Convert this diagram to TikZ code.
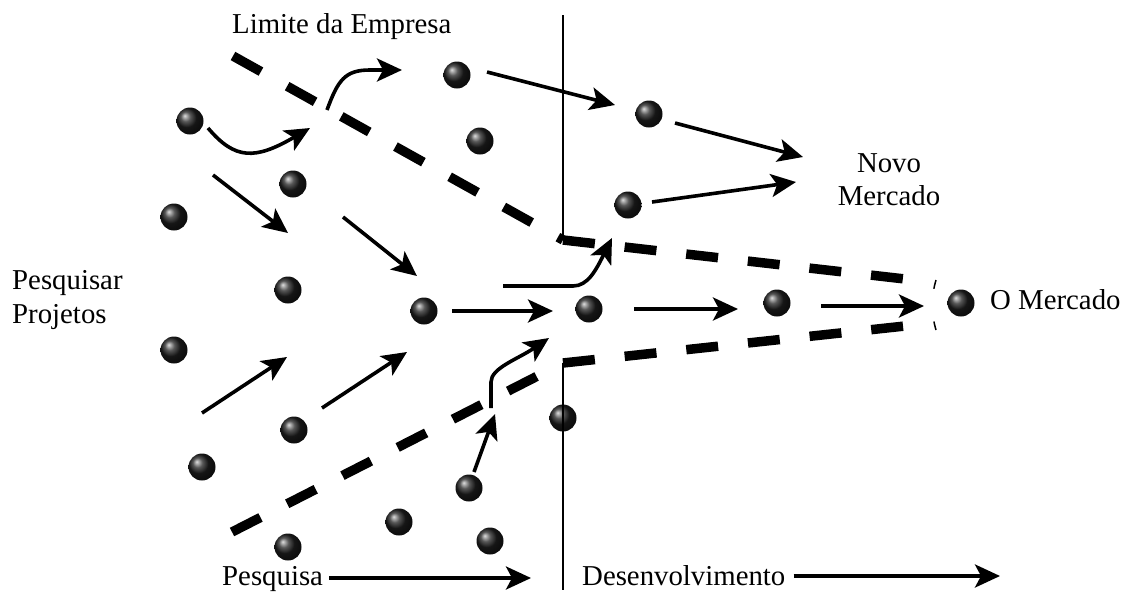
\documentclass[tikz,border=0pt]{standalone}
\usepackage{fontspec}
\setmainfont{Liberation Serif}
\usetikzlibrary{arrows.meta,shadings}
\tikzset{
  ballnode/.style={circle, inner sep=0pt, minimum size=27pt, shading=ball, ball color=black!88},
  flow/.style={line width=3.6pt, -{Stealth[length=25pt,width=23pt,inset=6pt]}},
  boundary/.style={line width=9.5pt, dash pattern=on 32pt off 30pt},
  divider/.style={line width=1.6pt},
  lbl/.style={inner sep=0pt, font=\fontsize{28.8}{33}\selectfont}
}
\begin{document}
\begin{tikzpicture}[x=1pt,y=-1pt]
\useasboundingbox (0,0) rectangle (1127,592);
% balls
\node[ballnode] (b1) at (190,121) {};
\node[ballnode] (b2) at (457,75) {};
\node[ballnode] (b3) at (480,141) {};
\node[ballnode] (b4) at (293,184) {};
\node[ballnode] (b5) at (174,217) {};
\node[ballnode] (b6) at (649,114) {};
\node[ballnode] (b7) at (628,205) {};
\node[ballnode] (b8) at (288,290) {};
\node[ballnode] (b9) at (424,311) {};
\node[ballnode] (b10) at (589,309) {};
\node[ballnode] (b11) at (777,303) {};
\node[ballnode] (b12) at (961,303) {};
\node[ballnode] (b13) at (174,350) {};
\node[ballnode] (b14) at (294,430) {};
\node[ballnode] (b15) at (563,418) {};
\node[ballnode] (b16) at (202,467) {};
\node[ballnode] (b17) at (469,488) {};
\node[ballnode] (b18) at (399,522) {};
\node[ballnode] (b19) at (490,541) {};
\node[ballnode] (b20) at (288,547) {};
% labels
\node[lbl, anchor=base west] (limite) at (232,33) {Limite da Empresa};
\node[lbl, anchor=base] (novo) at (889,172) {Novo};
\node[lbl, anchor=base] (mercado) at (889,205) {Mercado};
\node[lbl, anchor=base west] (pesq1) at (12,289) {Pesquisar};
\node[lbl, anchor=base west] (pesq2) at (12,323) {Projetos};
\node[lbl, anchor=base west] (omerc) at (990,309) {O Mercado};
\node[lbl, anchor=base west] (pesquisa) at (222,585) {Pesquisa};
\node[lbl, anchor=base west] (desenv) at (582,585) {Desenvolvimento};
% divider line
\coordinate (vtop) at (563,15);
\coordinate (ucorner) at (563,240);
\coordinate (lcorner) at (563,363);
\coordinate (vbot) at (563,590);
\draw[divider] (vtop) -- (ucorner);
\draw[divider] (lcorner) -- (vbot);
% boundaries
\coordinate (ustart) at (233,56);
\coordinate (uend) at (905,279);
\coordinate (lstart) at (232,532);
\coordinate (lend) at (905,326);
\draw[boundary] (ustart) -- (ucorner);
\draw[boundary] (ucorner) -- (uend);
\draw[boundary] (lstart) -- (lcorner);
\draw[boundary] (lcorner) -- (lend);
\coordinate (mtop) at (936,280);
\coordinate (mbot) at (936,330);
\draw[line width=1.5pt, dash pattern=on 9pt off 33pt] (mtop) .. controls (931,297) and (931,313) .. (mbot);
% arrows
\coordinate (a1s) at (208,128); \coordinate (a1e) at (310,128);
\draw[flow] (a1s) .. controls (235,160) and (255,160) .. (a1e);
\coordinate (a2s) at (327,110); \coordinate (a2m) at (370,70); \coordinate (a2e) at (402,70);
\draw[flow] (a2s) .. controls (338,80) and (345,70) .. (a2m) -- (a2e);
\coordinate (a3s) at (487,72); \coordinate (a3e) at (615,105);
\draw[flow] (a3s) -- (a3e);
\coordinate (a4s) at (675,123); \coordinate (a4e) at (803,157);
\draw[flow] (a4s) -- (a4e);
\coordinate (a5s) at (652,202); \coordinate (a5e) at (796,182);
\draw[flow] (a5s) -- (a5e);
\coordinate (a6s) at (213,175); \coordinate (a6e) at (288,233);
\draw[flow] (a6s) -- (a6e);
\coordinate (a7s) at (343,217); \coordinate (a7e) at (417,276);
\draw[flow] (a7s) -- (a7e);
\coordinate (a8s) at (503,286); \coordinate (a8m) at (573,286); \coordinate (a8e) at (612,238);
\draw[flow] (a8s) -- (a8m) .. controls (588,286) and (596,270) .. (a8e);
\coordinate (a9s) at (452,311); \coordinate (a9e) at (553,311);
\draw[flow] (a9s) -- (a9e);
\coordinate (a10s) at (634,309); \coordinate (a10e) at (738,309);
\draw[flow] (a10s) -- (a10e);
\coordinate (a11s) at (821,306); \coordinate (a11e) at (924,306);
\draw[flow] (a11s) -- (a11e);
\coordinate (a12s) at (202,413); \coordinate (a12e) at (287,357);
\draw[flow] (a12s) -- (a12e);
\coordinate (a13s) at (322,408); \coordinate (a13e) at (407,352);
\draw[flow] (a13s) -- (a13e);
\coordinate (a14s) at (474,472); \coordinate (a14e) at (495,414);
\draw[flow] (a14s) -- (a14e);
\coordinate (a15s) at (491,408); \coordinate (a15m) at (491,382); \coordinate (a15e) at (549,338);
\draw[flow] (a15s) -- (a15m) .. controls (491,368) and (518,359) .. (a15e);
\coordinate (a16e) at (531,578);
\draw[flow] ([xshift=6pt]pesquisa.base east |- a16e) -- (a16e);
\coordinate (a17e) at (1000,576);
\draw[flow] ([xshift=8pt]desenv.base east |- a17e) -- (a17e);
\end{tikzpicture}
\end{document}
